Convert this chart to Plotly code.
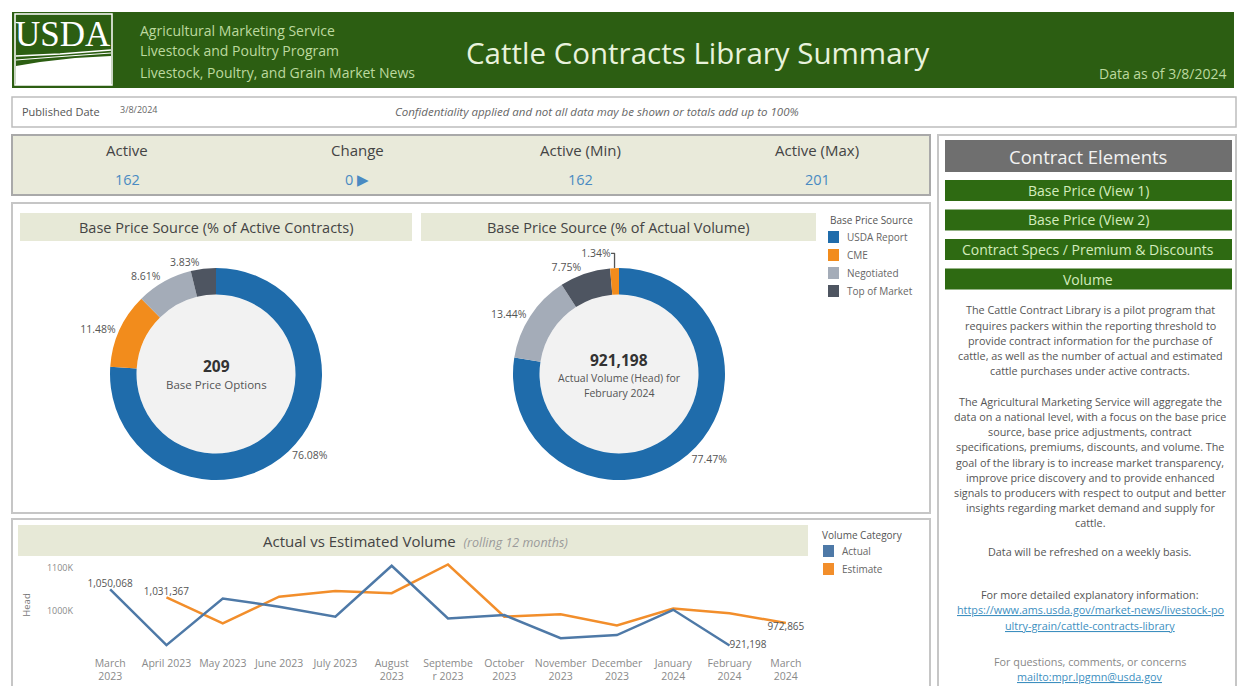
import plotly.graph_objects as go

W, H = 1238, 686
FONT = "Open Sans"

# ---------------- data ----------------
sources = ["USDA Report", "CME", "Negotiated", "Top of Market"]
source_colors = ["#1f6cab", "#f28c1c", "#a4acb8", "#4e5561"]
active_contracts_pct = [76.08, 11.48, 8.61, 3.83]
actual_volume_pct = [77.47, 1.34, 13.44, 7.75]

months = ["March 2023", "April 2023", "May 2023", "June 2023", "July 2023", "August 2023",
          "September 2023", "October 2023", "November 2023", "December 2023",
          "January 2024", "February 2024", "March 2024"]
month_ticks = ["March<br>2023", "April 2023", "May 2023", "June 2023", "July 2023", "August<br>2023",
               "Septembe<br>r 2023", "October<br>2023", "November<br>2023", "December<br>2023",
               "January<br>2024", "February<br>2024", "March<br>2024"]
actual_volume = [1050068, 922000, 1029000, 1010000, 987000, 1104000, 983000,
                 991000, 938000, 945000, 1003000, 921198, None]
estimate_volume = [None, 1031367, 972000, 1033000, 1046000, 1041000, 1107000,
                   987000, 993000, 967000, 1006000, 995000, 972865]
y_tick_vals = [1000000, 1100000]
y_tick_text = ["1000K", "1100K"]

kpi_labels = ["Active", "Change", "Active (Min)", "Active (Max)"]
kpi_values = ["162", "0 ▶", "162", "201"]

nav_buttons = ["Base Price (View 1)", "Base Price (View 2)",
               "Contract Specs / Premium & Discounts", "Volume"]

about_lines = [
    "The Cattle Contract Library is a pilot program that",
    "requires packers within the reporting threshold to",
    "provide contract information for the purchase of",
    "cattle, as well as the number of actual and estimated",
    "cattle purchases under active contracts.",
    "",
    "The Agricultural Marketing Service will aggregate the",
    "data on a national level, with a focus on the base price",
    "source, base price adjustments, contract",
    "specifications, premiums, discounts, and volume. The",
    "goal of the library is to increase market transparency,",
    "improve price discovery and to provide enhanced",
    "signals to producers with respect to output and better",
    "insights regarding market demand and supply for",
    "cattle.",
]

# ---------------- helpers ----------------
def px(x):
    return x / W


def py(y):
    return 1 - y / H


shapes = []
annotations = []


def rect(x0, y0, x1, y1, fill=None, line=None, lw=0):
    shapes.append(dict(type="rect", xref="paper", yref="paper",
                       x0=px(x0), x1=px(x1), y0=py(y1), y1=py(y0),
                       fillcolor=fill if fill else "rgba(0,0,0,0)",
                       line=dict(color=line if line else "rgba(0,0,0,0)", width=lw),
                       layer="below"))


def circle(cx, cy, r, fill):
    shapes.append(dict(type="circle", xref="paper", yref="paper",
                       x0=px(cx - r), x1=px(cx + r), y0=py(cy + r), y1=py(cy - r),
                       fillcolor=fill, line=dict(width=0), layer="below"))


def path(points, fill=None, line=None, lw=0):
    d = "M " + " L ".join(f"{px(x):.5f},{py(y):.5f}" for x, y in points)
    if fill:
        d += " Z"
    shapes.append(dict(type="path", xref="paper", yref="paper", path=d,
                       fillcolor=fill if fill else "rgba(0,0,0,0)",
                       line=dict(color=line if line else "rgba(0,0,0,0)", width=lw),
                       layer="above"))


def ann(x, y, text, size, color, xanchor="center", family=FONT, yanchor="middle"):
    annotations.append(dict(x=px(x), y=py(y), xref="paper", yref="paper", text=text,
                            showarrow=False, xanchor=xanchor, yanchor=yanchor,
                            font=dict(size=size, color=color, family=family)))


# ---------------- header ----------------
GREEN = "#2c5e12"
rect(12, 12, 1234, 88, fill=GREEN)
# USDA logo
rect(15, 14, 112, 85, line="#ffffff", lw=1.5)
ann(63, 35, "USDA", 35, "#ffffff", family="Liberation Serif")
path([(16, 85), (16, 66), (40, 62), (75, 58), (111, 56), (111, 85)], fill="#ffffff")
path([(16, 56), (60, 54), (111, 50)], line="#ffffff", lw=1.5)
path([(16, 60), (55, 57), (111, 53)], line="#ffffff", lw=1)
ann(138, 30, "Agricultural Marketing Service", 14, "#bcd99f", xanchor="left")
ann(138, 51, "Livestock and Poultry Program", 14, "#bcd99f", xanchor="left")
ann(138, 72, "Livestock, Poultry, and Grain Market News", 14, "#bcd99f", xanchor="left")
ann(698, 52, "Cattle Contracts Library Summary", 29.5, "#e8f2dc")
ann(1229, 74, "Data as of 3/8/2024", 14, "#bcd99f", xanchor="right")

# ---------------- published date row ----------------
rect(12, 97, 1236, 127, fill="#ffffff", line="#bdbdbd", lw=1.5)
ann(20, 112, "Published Date", 11, "#555555", xanchor="left")
ann(118, 110, "3/8/2024", 9, "#666666", xanchor="left")
ann(597, 112, "<i>Confidentiality applied and not all data may be shown or totals add up to 100%</i>",
    11.5, "#666666")

# ---------------- KPI row ----------------
rect(12, 135, 930, 195, fill="#e9eada", line="#a9a9a9", lw=2)
kpi_x = [127, 357, 580, 817]
for x, lab, val in zip(kpi_x, kpi_labels, kpi_values):
    ann(x, 150, lab, 15, "#444444")
    ann(x, 180, val, 14.5, "#4a8bc2")

# ---------------- donut panel ----------------
rect(12, 203, 930, 513, fill="#ffffff", line="#c6c6c6", lw=2)
rect(20, 213, 412, 241, fill="#e7e9d7")
rect(421, 213, 816, 241, fill="#e7e9d7")
ann(216, 227, "Base Price Source (% of Active Contracts)", 14.5, "#444444")
ann(618, 227, "Base Price Source (% of Actual Volume)", 14.5, "#444444")

D1 = (216, 374)
D2 = (619, 374)
R = 106
HOLE = 0.75
circle(D1[0], D1[1], R * HOLE, "#f2f2f2")
circle(D2[0], D2[1], R * HOLE, "#f2f2f2")

ann(D1[0], 366, "<b>209</b>", 15.5, "#333333")
ann(D1[0], 385, "Base Price Options", 11.5, "#555555")
ann(D2[0], 360, "<b>921,198</b>", 15.5, "#333333")
ann(D2[0], 378, "Actual Volume (Head) for", 10.5, "#555555")
ann(D2[0], 393, "February 2024", 10.5, "#555555")

# donut legend
ann(828, 220, "Base Price Source", 10, "#555555", xanchor="left")
for i, (s, c) in enumerate(zip(sources, source_colors)):
    yy = 237 + 18 * i
    rect(828, yy - 6, 839, yy + 6, fill=c)
    ann(845, yy, s, 10, "#666666", xanchor="left")

# ---------------- line chart panel ----------------
rect(12, 519, 930, 690, fill="#ffffff", line="#c6c6c6", lw=2)
rect(18, 525, 808, 556, fill="#e7e9d7")
ann(415, 541, "Actual vs Estimated Volume  <i><span style='font-size:12.5px;color:#9a9a9a'>(rolling 12 months)</span></i>",
    15, "#444444")
ann(820, 535, "Volume Category", 10, "#555555", xanchor="left")
for i, (s, c) in enumerate(zip(["Actual", "Estimate"], ["#4e79a7", "#f28e2b"])):
    yy = 551 + 18 * i
    rect(823, yy - 6, 834, yy + 6, fill=c)
    ann(840, yy, s, 10, "#666666", xanchor="left")

# ---------------- right panel ----------------
rect(938, 135, 1236, 692, fill="#ffffff", line="#c6c6c6", lw=2)
rect(945, 140, 1232, 172, fill="#6f6f6f")
ann(1088, 157, "Contract Elements", 18.5, "#f2f2f2")
for i, b in enumerate(nav_buttons):
    y0 = 180 + 29.5 * i
    rect(945, y0, 1232, y0 + 21, fill="#2e6a12")
    ann(1088, y0 + 10.5, b, 14, "#d4ecbd")

for i, line in enumerate(about_lines):
    if line:
        ann(1090, 310 + 15.2 * i, line, 10.8, "#555555")
ann(1090, 551, "Data will be refreshed on a weekly basis.", 10.8, "#555555")
ann(1090, 594, "For more detailed explanatory information:", 10.8, "#555555")
ann(1090, 609, "<u>https://www.ams.usda.gov/market-news/livestock-po</u>", 10.8, "#3d8fbf")
ann(1090, 625, "<u>ultry-grain/cattle-contracts-library</u>", 10.8, "#3d8fbf")
ann(1090, 661, "For questions, comments, or concerns", 10.8, "#888888")
ann(1090, 676, "<u>mailto:mpr.lpgmn@usda.gov</u>", 10.8, "#3d8fbf")

# ---------------- traces ----------------
fig = go.Figure()


def donut(cx, cy, vals):
    return go.Pie(
        labels=sources, values=vals,
        marker=dict(colors=source_colors, line=dict(width=0)),
        hole=HOLE, sort=True, direction="clockwise", rotation=0,
        texttemplate="%{value:.2f}%", textposition="outside",
        textfont=dict(size=10.5, color="#555555", family=FONT),
        domain=dict(x=[px(cx - R), px(cx + R)], y=[py(cy + R), py(cy - R)]),
        showlegend=False, hoverinfo="skip",
    )


fig.add_trace(donut(D1[0], D1[1], active_contracts_pct))
fig.add_trace(donut(D2[0], D2[1], actual_volume_pct))

actual_text = [""] * len(months)
actual_text[0] = "1,050,068"
actual_text[11] = "921,198"
actual_pos = ["top center"] * len(months)
actual_pos[11] = "middle right"

est_text = [""] * len(months)
est_text[1] = "1,031,367"
est_text[12] = "972,865"
est_pos = ["top center"] * len(months)
est_pos[12] = "bottom center"

fig.add_trace(go.Scatter(
    x=months, y=estimate_volume, mode="lines+text", name="Estimate",
    line=dict(color="#f28e2b", width=2.5), text=est_text, textposition=est_pos,
    textfont=dict(size=10, color="#555555", family=FONT), cliponaxis=False,
    showlegend=False, hoverinfo="skip"))
fig.add_trace(go.Scatter(
    x=months, y=actual_volume, mode="lines+text", name="Actual",
    line=dict(color="#4e79a7", width=2.5), text=actual_text, textposition=actual_pos,
    textfont=dict(size=10, color="#555555", family=FONT), cliponaxis=False,
    showlegend=False, hoverinfo="skip"))

fig.update_layout(
    width=W, height=H, margin=dict(l=0, r=0, t=0, b=0),
    paper_bgcolor="#ffffff", plot_bgcolor="rgba(0,0,0,0)",
    font=dict(family=FONT),
    shapes=shapes, annotations=annotations, showlegend=False,
    xaxis=dict(domain=[px(82), px(814)], type="category", categoryorder="array",
               categoryarray=months, tickvals=months, ticktext=month_ticks,
               range=[-0.5, 12.5], showgrid=False, zeroline=False, showline=False,
               ticks="", tickangle=0, tickfont=dict(size=10.5, color="#8a8a8a"),
               fixedrange=True),
    yaxis=dict(domain=[py(655), py(555)], range=[899300, 1128700],
               tickvals=y_tick_vals, ticktext=y_tick_text, showgrid=False,
               zeroline=False, showline=False, ticks="", ticklabelstandoff=8,
               tickfont=dict(size=9, color="#8a8a8a"),
               title=dict(text="Head", font=dict(size=9.5, color="#777777"), standoff=14),
               fixedrange=True),
)

fig.write_html("out.html", config={"displayModeBar": False})

# remove default page margin so the figure sits at the window's top-left corner
with open("out.html", "r", encoding="utf-8") as f:
    html = f.read()
html = html.replace("<head>", "<head><style>html,body{margin:0;padding:0;overflow:hidden;}</style>", 1)
with open("out.html", "w", encoding="utf-8") as f:
    f.write(html)
